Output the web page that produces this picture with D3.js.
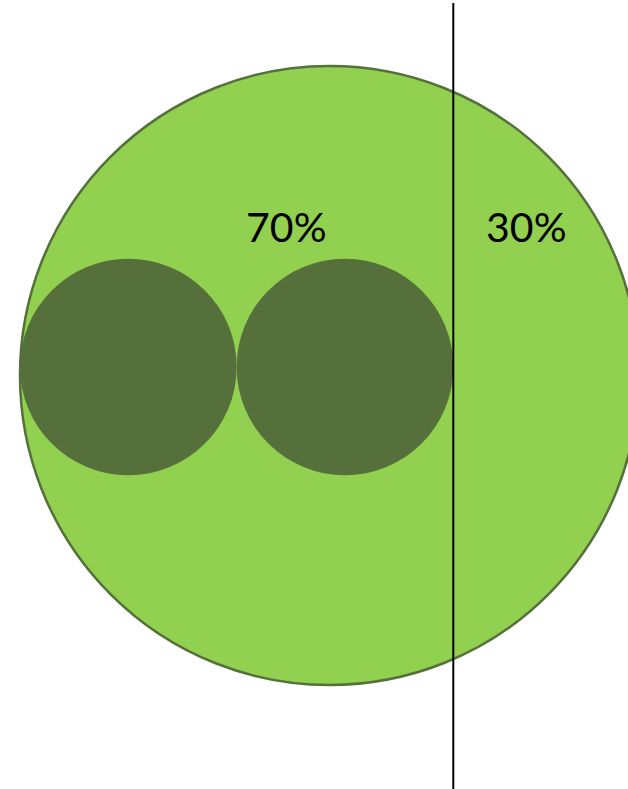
<!DOCTYPE html>
<html>
<head>
<meta charset="utf-8">
<script src="https://cdn.jsdelivr.net/npm/d3@7"></script>
<style>
  html, body { margin: 0; padding: 0; background: #fff; }
  svg { display: block; }
</style>
</head>
<body>
<div id="chart"></div>
<script>
// share of the whole, split in two parts
const parts = ["70%", "30%"];
const shares = [70, 30];
// the 70% part shown as this many equal circles
const unitCount = 2;

const width = 628, height = 789;

const svg = d3.select("#chart").append("svg")
    .attr("width", width)
    .attr("height", height);

// 0..100 maps to the big circle's diameter
const x = d3.scaleLinear().domain([0, 100]).range([20, 639]);
const cy = 375.5;
const r = (x(100) - x(0)) / 2;

svg.append("circle")
    .attr("cx", x(50))
    .attr("cy", cy)
    .attr("r", r)
    .attr("fill", "#92D050")
    .attr("stroke", "#55713A")
    .attr("stroke-width", 2.5);

// small circles filling the first share
const unit = shares[0] / unitCount;
const units = d3.range(unitCount).map(i => i * unit + unit / 2);
svg.selectAll("circle.unit")
    .data(units)
    .enter()
    .append("circle")
    .attr("class", "unit")
    .attr("cx", d => x(d))
    .attr("cy", cy - 8.5)
    .attr("r", (x(unit) - x(0)) / 2)
    .attr("fill", "#56703C");

// split line
const split = x(shares[0]);
svg.append("line")
    .attr("x1", split).attr("x2", split)
    .attr("y1", 3).attr("y2", height)
    .attr("stroke", "#000")
    .attr("stroke-width", 2);

// labels either side of the split
const labelX = [split - 167, split + 73];
svg.selectAll("text.part")
    .data(parts)
    .enter()
    .append("text")
    .attr("class", "part")
    .attr("x", (d, i) => labelX[i])
    .attr("y", 242)
    .attr("text-anchor", "middle")
    .style("font-family", "Lato, 'Open Sans', sans-serif")
    .style("font-size", "41px")
    .style("fill", "#000")
    .text(d => d);
</script>
</body>
</html>
